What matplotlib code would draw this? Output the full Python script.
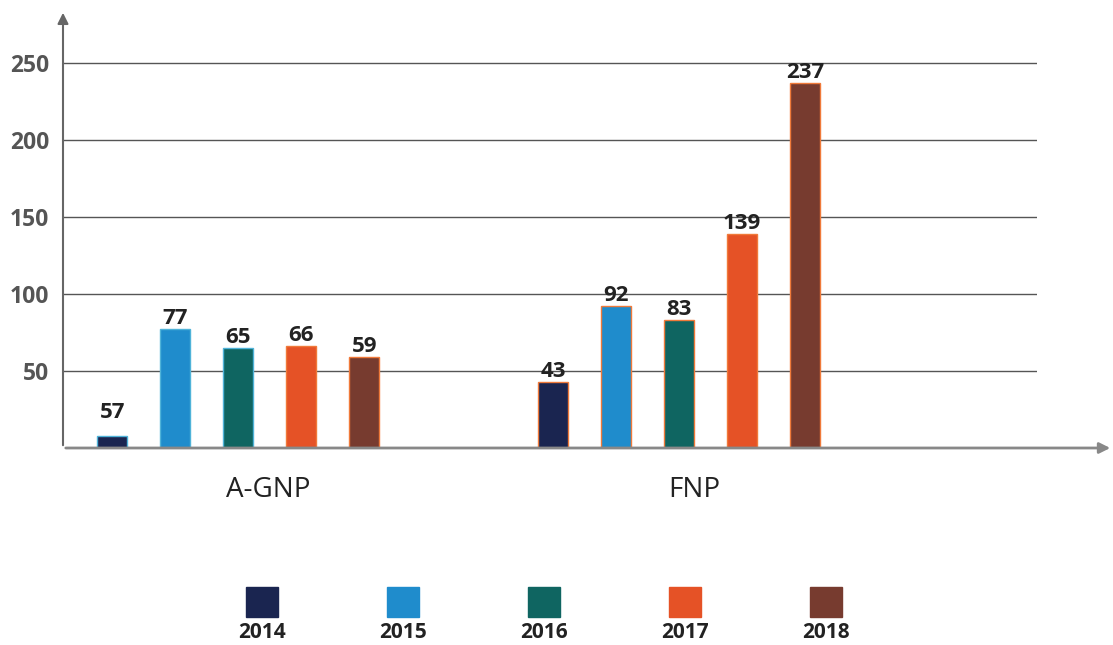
import matplotlib.pyplot as plt
from matplotlib.patches import Rectangle

plt.rcParams["font.family"] = ["Open Sans", "DejaVu Sans"]

# data
groups = ["A-GNP", "FNP"]
years = ["2014", "2015", "2016", "2017", "2018"]
agnp = [8, 77, 65, 66, 59]
fnp = [43, 92, 83, 139, 237]
agnp_labels = ["57", "77", "65", "66", "59"]
fnp_labels = ["43", "92", "83", "139", "237"]
colors = ["#1a2550", "#1f8ccc", "#0f6561", "#e55226", "#773b2f"]

fig = plt.figure(figsize=(11.13, 6.45), dpi=100)
ax = fig.add_axes([63 / 1113, 197 / 645, 974 / 1113, 438 / 645])

centers = [0, 7]
width = 0.47
for i, year in enumerate(years):
    xs = [c + i - 2 for c in centers]
    edge = ["#4fb3d9" if i < 3 else "#f07a3a", "#f07a3a"]
    bars = ax.bar(xs, [agnp[i], fnp[i]], width, color=colors[i],
                  edgecolor=edge, linewidth=1, zorder=3)
    for b, lab, extra in zip(bars, [agnp_labels[i], fnp_labels[i]],
                             [9 if i == 0 else 0, 0]):
        ax.annotate(lab, (b.get_x() + b.get_width() / 2, b.get_height()),
                    xytext=(0, 0 + extra), textcoords="offset points",
                    ha="center", va="bottom", fontsize=16, fontweight="bold",
                    color="#222222")

ax.set_xlim(-2.78, 12.68)
ax.set_ylim(0, 250 * 438 / 385)
ax.set_yticks([50, 100, 150, 200, 250])
ax.set_yticklabels(["50", "100", "150", "200", "250"], fontsize=16.5,
                   fontweight="bold", color="#555555")
ax.set_xticks([])
ax.tick_params(axis="y", length=0, pad=10)
ax.grid(axis="y", color="#555555", linewidth=1, zorder=0)
for s in ax.spines.values():
    s.set_visible(False)

# axes with arrows
ax.annotate("", xy=(0, 1.0), xytext=(0, 0), xycoords="axes fraction",
            arrowprops=dict(arrowstyle="-|>", color="#666666", lw=1.5,
                            mutation_scale=16), annotation_clip=False)
ax.annotate("", xy=(1050 / 974, 0), xytext=(0, 0), xycoords="axes fraction",
            arrowprops=dict(arrowstyle="-|>", color="#888888", lw=2,
                            mutation_scale=16), annotation_clip=False)

# group labels
for name, px in zip(groups, [268, 694]):
    fig.text(px / 1113, 1 - 490 / 645, name, ha="center", va="center",
             fontsize=20, color="#222222")

# legend
for i, year in enumerate(years):
    cx = 262 + 141 * i
    fig.add_artist(Rectangle(((cx - 16) / 1113, 1 - 617 / 645), 32 / 1113,
                             30 / 645, transform=fig.transFigure,
                             color=colors[i]))
    fig.text(cx / 1113, 1 - 633 / 645, year, ha="center", va="center",
             fontsize=15, fontweight="bold", color="#222222")

fig.savefig("out.png", dpi=100)
